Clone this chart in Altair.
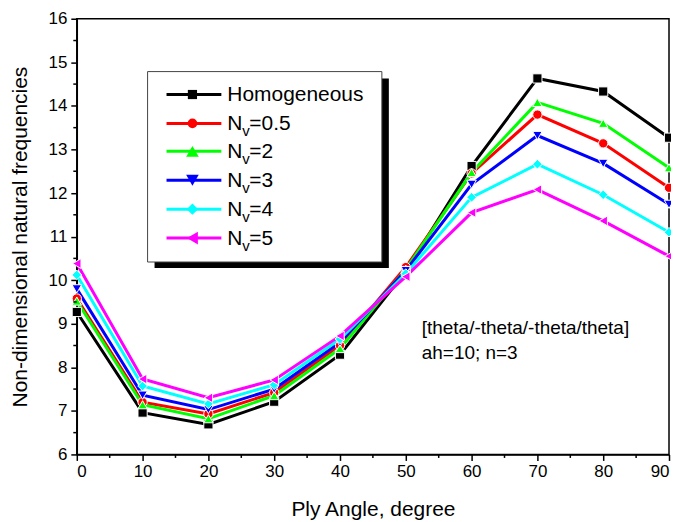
import altair as alt
import pandas as pd

angles = [0, 10, 20, 30, 40, 50, 60, 70, 80, 90]
homogeneous = [9.27, 6.96, 6.69, 7.21, 8.29, 10.20, 12.62, 14.63, 14.33, 13.27]
nv_05 = [9.58, 7.20, 6.93, 7.42, 8.50, 10.30, 12.45, 13.80, 13.14, 12.12]
nv_2 = [9.52, 7.14, 6.82, 7.35, 8.43, 10.25, 12.47, 14.08, 13.60, 12.58]
nv_3 = [9.80, 7.36, 7.03, 7.50, 8.57, 10.22, 12.20, 13.32, 12.68, 11.74]
nv_4 = [10.12, 7.57, 7.16, 7.60, 8.65, 10.15, 11.90, 12.66, 11.96, 11.10]
nv_5 = [10.38, 7.73, 7.30, 7.71, 8.72, 10.08, 11.55, 12.08, 11.36, 10.55]

series_names = ["Homogeneous", "Nv=0.5", "Nv=2", "Nv=3", "Nv=4", "Nv=5"]
series_values = [homogeneous, nv_05, nv_2, nv_3, nv_4, nv_5]
colors = ["#000000", "#FF0000", "#00FF00", "#0000FF", "#00FFFF", "#FF00FF"]
shapes = ["square", "circle", "triangle-up", "triangle-down", "diamond", "triangle-left"]
sizes = [85, 95, 160, 160, 130, 160]
legend_suffix = [None, "=0.5", "=2", "=3", "=4", "=5"]

y_ticks = list(range(6, 17))
y_minor = [6.5 + i for i in range(10)]
x_minor = [5 + 10 * i for i in range(9)]

FONT = "Liberation Sans"
W, H = 594, 437

rows = []
for name, vals in zip(series_names, series_values):
    for a, v in zip(angles, vals):
        rows.append({"angle": a, "value": v, "series": name})
df = pd.DataFrame(rows)

color_scale = alt.Scale(domain=series_names, range=colors)
shape_scale = alt.Scale(domain=series_names, range=shapes)
size_scale = alt.Scale(domain=series_names, range=sizes)

x_scale = alt.Scale(domain=[0, 90], nice=False)
y_scale = alt.Scale(domain=[6, 16], nice=False, zero=False)
axis_style = dict(grid=False, tickSize=6, tickWidth=1.5, tickColor="black",
                  domainColor="black", domainWidth=1.5,
                  labelFont=FONT, labelFontSize=17, labelColor="black",
                  titleFont=FONT, titleFontSize=21, titleColor="black", titleFontWeight="normal")
x_axis = alt.Axis(values=angles, title="Ply Angle, degree", labelPadding=3, titlePadding=19,
                  **axis_style)
y_axis = alt.Axis(values=y_ticks, title="Non-dimensional natural frequencies",
                  labelPadding=4, titlePadding=18, **axis_style)

lines = alt.Chart(df).mark_line(strokeWidth=3).encode(
    x=alt.X("angle:Q", scale=x_scale, axis=x_axis),
    y=alt.Y("value:Q", scale=y_scale, axis=y_axis),
    color=alt.Color("series:N", scale=color_scale, legend=None),
    detail="series:N",
    order=alt.Order("angle:Q"),
)
points = alt.Chart(df).mark_point(filled=True, opacity=1, stroke="white", strokeWidth=1).encode(
    x=alt.X("angle:Q", scale=x_scale, axis=x_axis),
    y=alt.Y("value:Q", scale=y_scale, axis=y_axis),
    color=alt.Color("series:N", scale=color_scale, legend=None),
    shape=alt.Shape("series:N", scale=shape_scale, legend=None),
    size=alt.Size("series:N", scale=size_scale, legend=None),
)

ymin_df = pd.DataFrame({"value": y_minor})
y_minor_ticks = alt.Chart(ymin_df).mark_rule(color="black", strokeWidth=1.5).encode(
    y=alt.Y("value:Q", scale=y_scale, axis=y_axis), x=alt.value(-3.5), x2=alt.value(0))
xmin_df = pd.DataFrame({"angle": x_minor})
x_minor_ticks = alt.Chart(xmin_df).mark_rule(color="black", strokeWidth=1.5).encode(
    x=alt.X("angle:Q", scale=x_scale, axis=x_axis), y=alt.value(H), y2=alt.value(H + 3.5))

one = pd.DataFrame({"k": [0]})
# legend box
lx0, lx1, ly0, ly1 = 71, 306, 53, 244
shadow = alt.Chart(one).mark_rect(color="black").encode(
    x=alt.value(lx0 + 7), x2=alt.value(lx1 + 7), y=alt.value(ly0 + 7), y2=alt.value(ly1 + 6))
box = alt.Chart(one).mark_rect(fill="white", stroke="#444444", strokeWidth=1).encode(
    x=alt.value(lx0), x2=alt.value(lx1), y=alt.value(ly0), y2=alt.value(ly1))

LFS = 21
legend_layers = [shadow, box]
row_y = [76, 105, 133, 162, 191, 220]
for i, name in enumerate(series_names):
    yy = row_y[i]
    legend_layers.append(alt.Chart(one).mark_rule(color=colors[i], strokeWidth=3).encode(
        x=alt.value(90), x2=alt.value(145), y=alt.value(yy)))
    legend_layers.append(alt.Chart(one).mark_point(
        filled=True, opacity=1, shape=shapes[i], color=colors[i], size=sizes[i]).encode(
        x=alt.value(116), y=alt.value(yy)))
    if legend_suffix[i] is None:
        legend_layers.append(alt.Chart(one).mark_text(
            text=name, font=FONT, fontSize=LFS, align="left", baseline="middle", color="black").encode(
            x=alt.value(151), y=alt.value(yy + 1)))
    else:
        legend_layers.append(alt.Chart(one).mark_text(
            text="N", font=FONT, fontSize=LFS, align="left", baseline="middle", color="black").encode(
            x=alt.value(151), y=alt.value(yy + 1)))
        legend_layers.append(alt.Chart(one).mark_text(
            text="v", font=FONT, fontSize=15, align="left", baseline="middle", color="black").encode(
            x=alt.value(166), y=alt.value(yy + 8)))
        legend_layers.append(alt.Chart(one).mark_text(
            text=legend_suffix[i], font=FONT, fontSize=LFS, align="left", baseline="middle", color="black").encode(
            x=alt.value(173), y=alt.value(yy + 1)))

annot1 = alt.Chart(one).mark_text(
    text="[theta/-theta/-theta/theta]", font=FONT, fontSize=19, align="left", baseline="middle",
    color="black").encode(x=alt.value(346), y=alt.value(310))
annot2 = alt.Chart(one).mark_text(
    text="ah=10; n=3", font=FONT, fontSize=19, align="left", baseline="middle",
    color="black").encode(x=alt.value(346), y=alt.value(335))

chart = alt.layer(
    lines, points, y_minor_ticks, x_minor_ticks, *legend_layers, annot1, annot2
).properties(
    width=W, height=H,
    background="white",
    padding={"left": 69, "top": 10, "right": 2, "bottom": 67},
    autosize=alt.AutoSizeParams(type="none"),
).configure_view(
    stroke="black", strokeWidth=1.5
)

chart.save("out.html", embed_options={"renderer": "svg", "actions": False})
